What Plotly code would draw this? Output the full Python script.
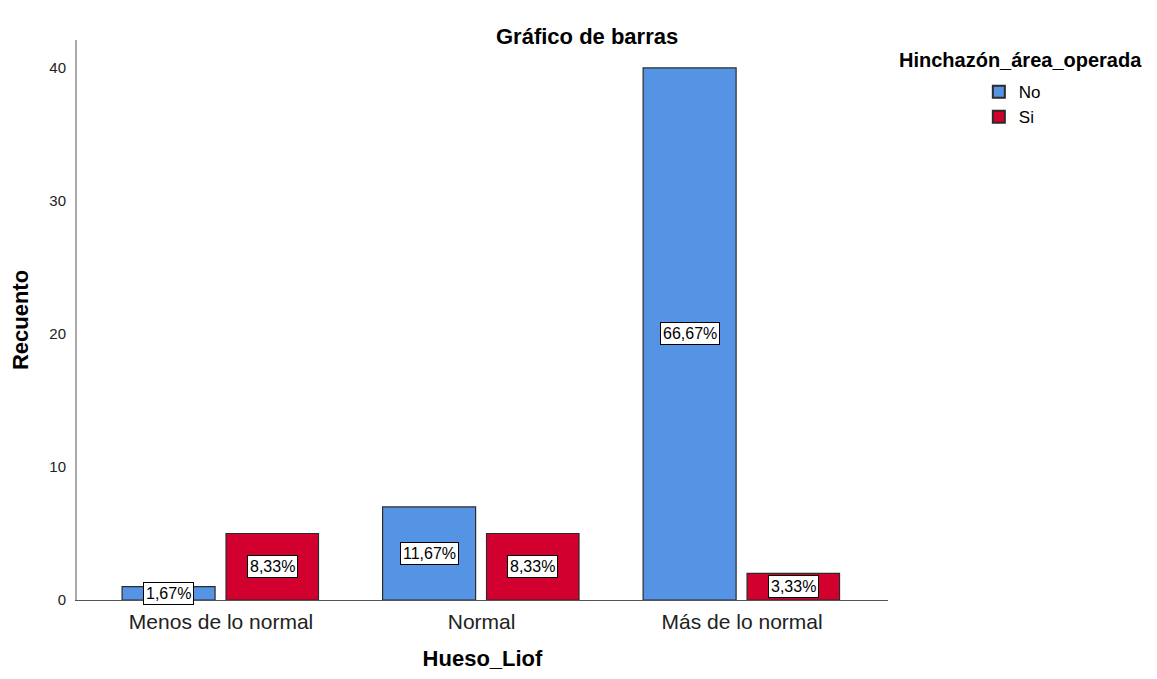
import plotly.graph_objects as go

categories = ["Menos de lo normal", "Normal", "Más de lo normal"]
no_counts = [1, 7, 40]
si_counts = [5, 5, 2]
no_pct = ["1,67%", "11,67%", "66,67%"]
si_pct = ["8,33%", "8,33%", "3,33%"]
y_ticks = [0, 10, 20, 30, 40]

FONT = "Arial, Liberation Sans, sans-serif"
BLUE = "#5594E4"
RED = "#D2002F"
xs = list(range(len(categories)))

fig = go.Figure()
fig.add_trace(go.Bar(x=xs, y=no_counts, name="No", width=0.357, offset=-0.38,
                     marker=dict(color=BLUE, line=dict(color="#2b2b2b", width=1.2))))
fig.add_trace(go.Bar(x=xs, y=si_counts, name="Si", width=0.355, offset=0.019,
                     marker=dict(color=RED, line=dict(color="#2b2b2b", width=1.2))))

for i in xs:
    for val, lab, dx in ((no_counts[i], no_pct[i], -0.2), (si_counts[i], si_pct[i], 0.196)):
        fig.add_annotation(x=i + dx, y=val / 2, text=lab, showarrow=False,
                           font=dict(family=FONT, size=16, color="black"),
                           bgcolor="white", bordercolor="black", borderwidth=1, borderpad=2)

fig.add_annotation(x=0.629, y=1.0, xref="paper", yref="paper", yshift=18,
                   text="<b>Gráfico de barras</b>", showarrow=False,
                   font=dict(family=FONT, size=22, color="black"))

# legend title
fig.add_annotation(x=1.1628, y=0.964, xref="paper", yref="paper", xanchor="center", yanchor="middle",
                   text="<b>Hinchazón_área_operada</b>", showarrow=False,
                   font=dict(family=FONT, size=20, color="black"))

fig.update_layout(
    width=1141, height=663,
    margin=dict(l=69, r=261, t=32, b=71),
    paper_bgcolor="white", plot_bgcolor="white",
    barmode="overlay",
    font=dict(family=FONT, color="black"),
    legend=dict(
        x=1.112, xanchor="left", y=0.939, yanchor="top",
        xref="paper", yref="paper",
        font=dict(family=FONT, size=17),
        itemsizing="constant",
        tracegroupgap=0,
    ),
    xaxis=dict(
        range=[-0.553, 2.56], tickmode="array", tickvals=xs, ticktext=categories,
        showgrid=False, zeroline=False, showline=True, linecolor="#555555", linewidth=1,
        ticks="", ticklabelstandoff=3, automargin=False,
        tickfont=dict(family=FONT, size=21, color="#222222"),
        title=dict(text="<b>Hueso_Liof</b>", font=dict(family=FONT, size=22), standoff=29),
    ),
    yaxis=dict(
        range=[0, 42.1], tickmode="array", tickvals=y_ticks,
        showgrid=False, zeroline=False, showline=True, linecolor="#aaaaaa", linewidth=2,
        ticks="", ticklabelstandoff=6, automargin=False,
        tickfont=dict(family=FONT, size=15, color="#222222"),
        title=dict(text="<b>Recuento</b>", font=dict(family=FONT, size=22), standoff=18),
    ),
)

fig.write_html("out.html")
